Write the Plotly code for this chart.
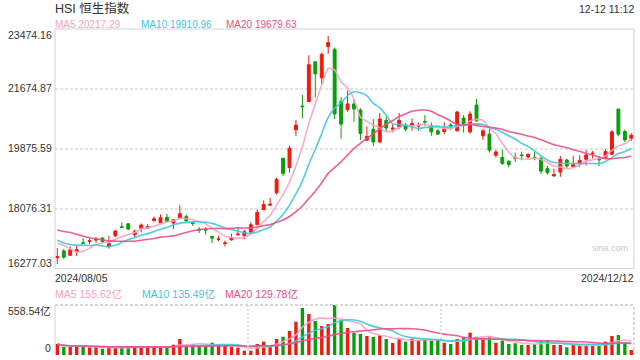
import plotly.graph_objects as go
import pandas as pd

# ---------------- data ----------------
holidays = ["2024-09-06", "2024-09-18", "2024-10-01", "2024-10-11"]
dates = [d.strftime("%Y/%m/%d") for d in pd.bdate_range("2024-08-05", "2024-12-12") if d.strftime("%Y-%m-%d") not in holidays]

opens = [16600, 16806, 16675, 16776, 17050, 17090, 17130, 17190, 16936, 17260,
         17530, 17623, 17290, 17480, 17490, 17714, 17644, 17816, 17644, 17784,
         17835, 17650, 17460, 17450, 17239, 17150, 17030, 17139, 17285, 17260,
         17372, 17592, 18046, 18180, 18551, 19588, 19307, 20444, 21160, 21291,
         22491, 22007, 22945, 22864, 21291, 21049, 21221, 21040, 20133, 20465,
         20081, 20728, 20465, 20535, 20566, 20586, 20555, 20695, 20566, 20414,
         20394, 20590, 20414, 20798, 20384, 21191, 20263, 20314, 19679, 19610,
         19498, 19615, 19690, 19628, 19620, 19579, 19285, 19060, 19174, 19538,
         19330, 19437, 19558, 19720, 19565, 19610, 19709, 21070, 20397, 20184]
highs = [16888, 16867, 16936, 16957, 17190, 17178, 17220, 17220, 17260, 17440,
         17662, 17630, 17450, 17630, 17612, 17840, 17900, 17920, 17760, 18178,
         17900, 17700, 17520, 17520, 17250, 17260, 17118, 17320, 17480, 17440,
         17670, 18046, 18327, 18400, 19000, 19600, 19960, 20747, 21494, 22682,
         22491, 22763, 23268, 22915, 21424, 21624, 21372, 21091, 20547, 20768,
         20949, 20860, 20616, 20949, 20647, 20789, 20667, 20888, 20667, 20465,
         20667, 20647, 21019, 20889, 21000, 21372, 20465, 20480, 19840, 19840,
         19530, 19760, 19790, 19730, 19790, 19658, 19360, 19275, 19658, 19578,
         19658, 19679, 19840, 19810, 19658, 19860, 20435, 21070, 20455, 20344]
lows = [16413, 16564, 16655, 16655, 17035, 17008, 17048, 17040, 16875, 17220,
        17515, 17430, 17220, 17360, 17462, 17690, 17644, 17660, 17462, 17760,
        17680, 17560, 17340, 17290, 17040, 17088, 16936, 17118, 17280, 17160,
        17320, 17592, 18046, 18170, 18500, 19053, 19156, 20263, 20789, 21291,
        21424, 21826, 22733, 20768, 20184, 20988, 20686, 20142, 20112, 19960,
        20042, 20405, 20365, 20465, 20405, 20414, 20414, 20566, 20263, 20294,
        20314, 20435, 20394, 20365, 20325, 20686, 20142, 19760, 19610, 19386,
        19316, 19477, 19530, 19580, 19530, 19113, 19095, 19033, 19033, 19300,
        19300, 19336, 19376, 19588, 19356, 19558, 19689, 20254, 20082, 20112]
closes = [16630, 16616, 16837, 16845, 17035, 17110, 17150, 17088, 17018, 17402,
          17515, 17462, 17390, 17583, 17530, 17770, 17804, 17694, 17740, 17925,
          17704, 17634, 17430, 17435, 17190, 17165, 17045, 17200, 17310, 17380,
          17592, 17964, 18197, 18210, 18953, 19135, 19890, 20586, 21140, 22400,
          22128, 22712, 23066, 20919, 20616, 21221, 21070, 20335, 20245, 20081,
          20768, 20496, 20495, 20728, 20465, 20636, 20575, 20680, 20384, 20314,
          20485, 20560, 20979, 20616, 20919, 20716, 20414, 19835, 19779, 19437,
          19398, 19580, 19670, 19709, 19600, 19204, 19156, 19104, 19558, 19356,
          19400, 19528, 19689, 19740, 19545, 19790, 20384, 20314, 20142, 20284]
# closes of the 19 sessions before the window (feed the moving averages)
prior_closes = [17523, 17471, 17832, 18293, 18015, 17727, 17739, 17778, 17417, 17635,
                17469, 17311, 17005, 17021, 17238, 17002, 17344, 17304, 16945]
# turnover, 亿
volumes = [123, 93, 93, 93, 100, 86, 86, 70, 86, 86,
           86, 86, 93, 100, 86, 86, 86, 86, 115, 179,
           100, 123, 108, 100, 137, 112, 104, 93, 82, 48,
           48, 123, 149, 100, 179, 204, 268, 372, 525, 458,
           380, 324, 346, 558.54, 391, 302, 249, 235, 212, 201,
           220, 179, 134, 182, 149, 182, 164, 175, 160, 168,
           137, 123, 179, 198, 249, 204, 182, 198, 137, 160,
           123, 131, 112, 112, 123, 160, 160, 112, 112, 86,
           112, 112, 112, 112, 100, 149, 212, 223, 137, 56]

price_ticks = [16277.03, 18076.31, 19875.59, 21674.87, 23474.16]
price_tick_labels = ["16277.03", "18076.31", "19875.59", "21674.87", "23474.16"]
vol_max = 558.54
vol_tick_labels = ["0", "558.54亿"]
title_text = "HSI 恒生指数"
time_text = "12-12 11:12"
ma_price_labels = ["MA5 20217.29", "MA10 19910.96", "MA20 19679.63"]
ma_vol_labels = ["MA5 155.62亿", "MA10 135.49亿", "MA20 129.78亿"]

# ---------------- styling ----------------
UP = "#f2190d"
DOWN = "#0b9e0b"
MA_COLORS = ["#f9a3c1", "#3fc6e2", "#ec4f86"]
FONT = "Arial, Liberation Sans, Noto Sans CJK SC, sans-serif"
TXT = "#333333"

full = pd.Series(prior_closes + closes, dtype=float)
n0 = len(prior_closes)
ma_price = [full.rolling(n).mean().iloc[n0:].tolist() for n in (5, 10, 20)]
vs = pd.Series(volumes, dtype=float)
ma_vol = [vs.rolling(n, min_periods=1).mean().tolist() for n in (5, 10, 20)]
vol_colors = [UP if c >= o else DOWN for o, c in zip(opens, closes)]

fig = go.Figure()
fig.add_trace(go.Candlestick(
    x=dates, open=opens, high=highs, low=lows, close=closes,
    increasing=dict(line=dict(color=UP, width=1), fillcolor=UP),
    decreasing=dict(line=dict(color=DOWN, width=1), fillcolor=DOWN),
    xaxis="x", yaxis="y", showlegend=False, hoverinfo="skip"))
for ma, col in zip(ma_price, MA_COLORS):
    fig.add_trace(go.Scatter(x=dates, y=ma, mode="lines", line=dict(color=col, width=1.6, shape="spline", smoothing=0.6),
                             opacity=0.9, xaxis="x", yaxis="y", showlegend=False, hoverinfo="skip"))
fig.add_trace(go.Bar(x=dates, y=volumes, marker=dict(color=vol_colors, line=dict(width=0)), width=0.52,
                     xaxis="x2", yaxis="y2", showlegend=False, hoverinfo="skip"))
for ma, col in zip(ma_vol, MA_COLORS):
    fig.add_trace(go.Scatter(x=dates, y=ma, mode="lines", line=dict(color=col, width=1.6, shape="spline", smoothing=0.6),
                             opacity=0.9, xaxis="x2", yaxis="y2", showlegend=False, hoverinfo="skip"))

W, H = 640, 360
ML, MR, MT, MB = 55, 6, 29, 5
PH = H - MT - MB
def py(px):  # pixel row -> paper fraction
    return (H - MB - px) / PH

xr = [-0.36, 89.42]
fig.update_layout(
    width=W, height=H, margin=dict(l=ML, r=MR, t=MT, b=MB),
    paper_bgcolor="white", plot_bgcolor="white",
    font=dict(family=FONT, color=TXT, size=11),
    boxgap=0.36,
    xaxis=dict(domain=[0, 1], type="category", range=xr, showticklabels=False, showgrid=False,
               zeroline=False, showline=False, rangeslider=dict(visible=False), anchor="y"),
    yaxis=dict(domain=[py(268.5), 1], range=[price_ticks[0], price_ticks[-1]], tickvals=price_ticks[1:-1],
               showticklabels=False, showgrid=True, gridcolor="#e4e4e4", gridwidth=2, griddash="3px,2px",
               zeroline=False, showline=False, anchor="x"),
    xaxis2=dict(domain=[0, 1], type="category", range=xr, showticklabels=False, showgrid=False,
                zeroline=False, showline=False, anchor="y2", matches="x"),
    yaxis2=dict(domain=[0, py(305)], range=[0, vol_max], showticklabels=False, showgrid=False,
                zeroline=False, showline=False, anchor="x2"),
    hovermode=False,
)

shapes = [
    dict(type="rect", xref="x domain", yref="y domain", x0=0, x1=1, y0=0, y1=1,
         line=dict(color="#d2d2d2", width=1), fillcolor="rgba(0,0,0,0)"),
    dict(type="line", xref="x2 domain", yref="y2 domain", x0=0, x1=1, y0=1, y1=1,
         line=dict(color="#d8d8d8", width=2, dash="3px,2px")),
    dict(type="line", xref="x2 domain", yref="y2 domain", x0=1, x1=1, y0=0, y1=1,
         line=dict(color="#d8d8d8", width=2, dash="3px,2px")),
    dict(type="line", xref="x2 domain", yref="y2 domain", x0=0, x1=0, y0=0, y1=1,
         line=dict(color="#d2d2d2", width=1)),
    dict(type="line", xref="x2 domain", yref="y2 domain", x0=1/3, x1=1/3, y0=0, y1=1,
         line=dict(color="#d8d8d8", width=1.5, dash="2px,2px")),
    dict(type="line", xref="x2 domain", yref="y2 domain", x0=2/3, x1=2/3, y0=0, y1=1,
         line=dict(color="#d8d8d8", width=1.5, dash="2px,2px")),
]
fig.update_layout(shapes=shapes)

ann = []
def text(x, y, s, xanchor="left", yanchor="middle", size=11, color=TXT):
    x = x - 2 if xanchor == "left" else x + 2  # compensate annotation padding
    ann.append(dict(xref="paper", yref="paper", x=(x - ML) / (W - ML - MR), y=py(y), text=s,
                    showarrow=False, xanchor=xanchor, yanchor=yanchor,
                    font=dict(size=size, color=color, family=FONT)))

text(55, 8.5, title_text, size=12.5)
text(634, 8.5, time_text, xanchor="right", size=10.5)
for x0, s, col in zip([55, 141, 225.5], ma_price_labels, MA_COLORS):
    text(x0, 24, s, size=10, color=col)
for x0, s, col in zip([55, 141.5, 225], ma_vol_labels, MA_COLORS):
    text(x0, 294, s, size=10.5, color=col)
# price axis labels
label_y = [263, 208, 148, 88, 35]
for yy, s in zip(label_y, price_tick_labels):
    text(52, yy, s, xanchor="right", size=10.5)
text(55, 277.5, dates[0], size=10.5)
text(634, 277.5, dates[-1], xanchor="right", size=10.5)
text(51, 311, vol_tick_labels[1], xanchor="right", size=10.5)
text(50.5, 348.3, vol_tick_labels[0], xanchor="right", size=10.5)
text(628, 248, "sina.com", xanchor="right", size=9, color="#c8c8c8")
fig.update_layout(annotations=ann)

fig.write_html("out.html", config={"staticPlot": True},
               post_script="document.body.style.margin='0';document.body.style.overflow='hidden';")
